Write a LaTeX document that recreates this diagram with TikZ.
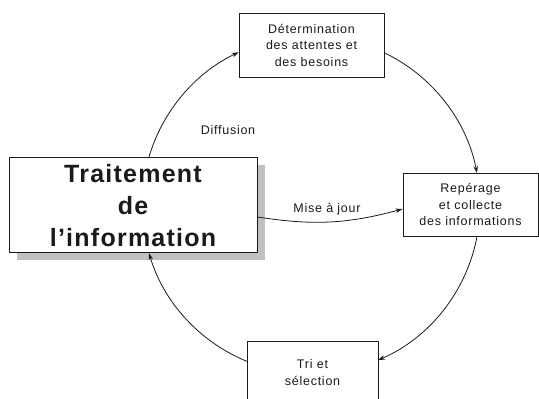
\documentclass[tikz,border=0pt]{standalone}
\usepackage{fontspec}
\setmainfont{Liberation Sans}
\usetikzlibrary{arrows.meta,shadows,calc}
\definecolor{shade}{HTML}{C0C0C0}
\definecolor{ink}{HTML}{1A1A1A}
\tikzset{
  box/.style={draw=ink, line width=0.9pt, fill=white, rectangle, inner sep=0pt, align=center, text=ink,
    font=\fontsize{12.5}{16.5}\selectfont\addfontfeatures{LetterSpace=6}},
  bigbox/.style={box, line width=1pt, font=\fontsize{25}{32}\selectfont\bfseries\addfontfeatures{LetterSpace=5},
    drop shadow={shadow xshift=8pt, shadow yshift=-7pt, fill=shade, opacity=1}},
  flow/.style={draw=ink, line width=0.8pt, -{Stealth[length=7pt,width=4.5pt]}},
  lbl/.style={text=ink, inner sep=0pt, font=\fontsize{12.5}{14}\selectfont\addfontfeatures{LetterSpace=6}}
}
\begin{document}
\begin{tikzpicture}[x=1pt,y=1pt]
\useasboundingbox (0,0) rectangle (539,399);
\clip (0,0) rectangle (539,399);
\fill[white] (0,0) rectangle (539,399);
\coordinate (ctr) at (311,194);
\node[bigbox, minimum width=248pt, minimum height=95pt] (big) at (133,193.5) {Traitement\\de\\l'information};
\node[box, minimum width=145pt, minimum height=64pt] (top) at (311.5,354) {Détermination\\des attentes et\\des besoins};
\node[box, minimum width=135pt, minimum height=63pt] (right) at (470.5,194.5) {Repérage\\et collecte\\des informations};
\node[box, minimum width=131pt, minimum height=63pt] (bottom) at (312.5,26.5) {Tri et\\sélection};
\coordinate (a1) at ($(ctr)+(163.5:169)$);
\coordinate (a2) at ($(ctr)+(64.4:169)$);
\coordinate (a3) at ($(ctr)+(-10.57:169)$);
\coordinate (a4) at ($(ctr)+(-112.25:169)$);
\draw[flow] (a1) arc[start angle=163.5, end angle=115.3, radius=169pt];
\draw[flow] (a2) arc[start angle=64.4, end angle=10.9, radius=169pt];
\draw[flow] (a3) arc[start angle=-10.57, end angle=-66.65, radius=169pt];
\draw[flow] (a4) arc[start angle=-112.25, end angle=-163.5, radius=169pt];
\draw[flow] ($(big.east)+(0,-11.5)$) to[bend right=12] ($(right.west)+(0,-4.5)$);
\node[lbl] (diff) at (228,269) {Diffusion};
\node[lbl] (maj) at (327,189.5) {Mise à jour};
\end{tikzpicture}
\end{document}
